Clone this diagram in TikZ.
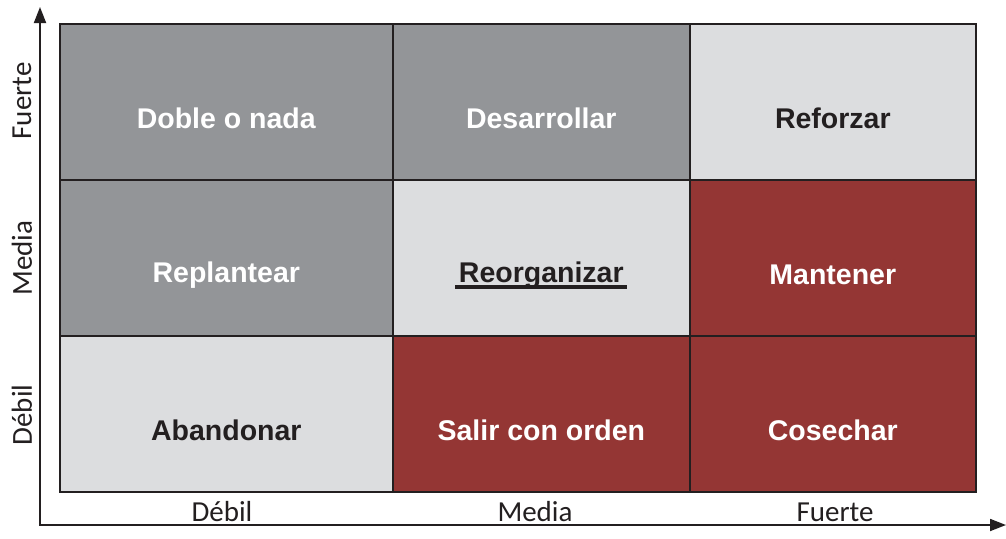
\documentclass[tikz,border=0pt]{standalone}
\usepackage{fontspec}
\setmainfont{Liberation Sans}
\newfontfamily\axisfont{Carlito}
\usetikzlibrary{arrows.meta}

\definecolor{cellgray}{HTML}{939598}
\definecolor{celllight}{HTML}{DCDDDF}
\definecolor{cellred}{HTML}{943634}
\definecolor{inkdark}{HTML}{231F20}

\tikzset{
  cell/.style={draw=inkdark, line width=1.6pt, inner sep=0pt, minimum height=156pt, anchor=north west},
  graycell/.style={cell, fill=cellgray},
  lightcell/.style={cell, fill=celllight},
  redcell/.style={cell, fill=cellred},
  celltext/.style={font=\bfseries\fontsize{28.5}{34}\selectfont},
  onlight/.style={celltext, text=inkdark},
  ondark/.style={celltext, text=white},
  axislabel/.style={font=\axisfont\fontsize{29}{32}\selectfont, text=inkdark},
  axistip/.tip={Triangle[length=16pt,width=12pt]},
}

\begin{document}
\begin{tikzpicture}[x=1pt, y=-1pt]
\useasboundingbox (0,0) rectangle (1006,538);

% axes
\coordinate (origin) at (40,525);
\coordinate (ytip) at (40,7);
\coordinate (xtip) at (1006,525);
\draw [inkdark, line width=1.8pt, axistip-axistip]
      (xtip) -- (origin) -- (ytip);

% top row
\node [graycell,  minimum width=333pt] (c11) at (59,23)  {};
\node [graycell,  minimum width=297pt] (c12) at (392,23) {};
\node [lightcell, minimum width=286pt] (c13) at (689,23) {};
% middle row
\node [graycell,  minimum width=333pt] (c21) at (59,179)  {};
\node [lightcell, minimum width=297pt] (c22) at (392,179) {};
\node [redcell,   minimum width=286pt] (c23) at (689,179) {};
% bottom row
\node [lightcell, minimum width=333pt] (c31) at (59,335)  {};
\node [redcell,   minimum width=297pt] (c32) at (392,335) {};
\node [redcell,   minimum width=286pt] (c33) at (689,335) {};

% cell texts
\node [ondark]  (t11) at ([yshift=-17pt]c11.center) {Doble o nada};
\node [ondark]  (t12) at ([yshift=-17pt]c12.center) {Desarrollar};
\node [onlight] (t13) at ([yshift=-17pt]c13.center) {Reforzar};
\node [ondark]  (t21) at ([yshift=-17pt]c21.center) {Replantear};
\node [onlight] (t22) at ([yshift=-17pt]c22.center) {Reorganizar};
\node [ondark]  (t23) at ([yshift=-17pt]c23.center) {Mantener};
\node [onlight] (t31) at ([yshift=-17pt]c31.center) {Abandonar};
\node [ondark]  (t32) at ([yshift=-17pt]c32.center) {Salir con orden};
\node [ondark]  (t33) at ([yshift=-17pt]c33.center) {Cosechar};
\draw [inkdark, line width=3.5pt] ([yshift=-5pt]t22.base west) -- ([yshift=-5pt]t22.base east);

% axis labels
\node [axislabel, rotate=90] (yl1) at (22,415) {Débil};
\node [axislabel, rotate=90] (yl2) at (22,258) {Media};
\node [axislabel, rotate=90] (yl3) at (22,101) {Fuerte};
\node [axislabel] (xl1) at (222,512) {Débil};
\node [axislabel] (xl2) at (535,512) {Media};
\node [axislabel] (xl3) at (835,512) {Fuerte};
\end{tikzpicture}
\end{document}
